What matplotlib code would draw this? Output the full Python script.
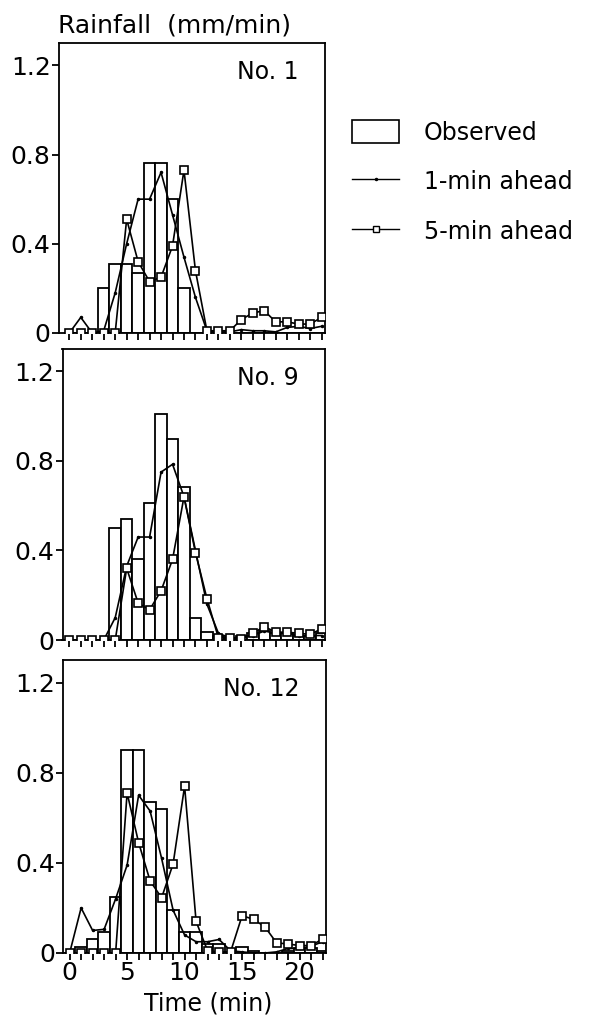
import numpy as np
import matplotlib
matplotlib.use("Agg")
from matplotlib import pyplot as plt
from matplotlib.patches import Patch
from matplotlib.lines import Line2D

plt.rcParams['font.family'] = ['DejaVu Sans']

# time (min)
t = np.arange(0, 23)

# No. 1
obs1 = [0, 0, 0, 0.20, 0.31, 0.31, 0.27, 0.76, 0.76, 0.60, 0.20, 0, 0, 0, 0, 0, 0, 0, 0, 0, 0, 0, 0]
one1 = [0, 0.07, 0, 0.01, 0.18, 0.40, 0.60, 0.60, 0.72, 0.53, 0.34, 0.16, 0.01, 0.005, 0.005,
        0.015, 0.01, 0.01, 0.005, 0.025, 0.03, 0.02, 0.03]
five1 = [0, 0, 0, 0, 0, 0.51, 0.32, 0.23, 0.25, 0.39, 0.73, 0.28, 0.01, 0.01, 0.01,
         0.06, 0.09, 0.10, 0.05, 0.05, 0.04, 0.04, 0.07]

# No. 9
obs2 = [0, 0, 0, 0, 0.50, 0.54, 0.36, 0.61, 1.01, 0.90, 0.685, 0.10, 0.035, 0.02, 0.01,
        0.02, 0.03, 0.04, 0.03, 0.03, 0.02, 0.02, 0.03]
one2 = [0, 0, 0, 0, 0.10, 0.33, 0.46, 0.46, 0.75, 0.785, 0.64, 0.40, 0.16, 0.03, 0.01,
        0.01, 0.02, 0.04, 0.03, 0.03, 0.02, 0.02, 0.02]
five2 = [0, 0, 0, 0, 0, 0.32, 0.165, 0.135, 0.22, 0.36, 0.64, 0.39, 0.185, 0.01, 0.01,
         0.005, 0.03, 0.06, 0.035, 0.035, 0.03, 0.025, 0.05]

# No. 12
obs3 = [0, 0.027, 0.06, 0.093, 0.25, 0.90, 0.90, 0.67, 0.64, 0.19, 0.095, 0.095, 0.04, 0.04, 0,
        0.025, 0.01, 0, 0, 0.01, 0.02, 0.02, 0.01]
one3 = [0, 0.20, 0.10, 0.105, 0.24, 0.39, 0.70, 0.63, 0.42, 0.19, 0.08, 0.05, 0.05, 0.06, 0.01,
        0.005, 0, 0, 0.005, 0.02, 0.02, 0.03, 0.05]
five3 = [0, 0, 0, 0, 0, 0.71, 0.49, 0.32, 0.245, 0.395, 0.74, 0.14, 0.01, 0.005, 0.005,
         0.165, 0.15, 0.115, 0.045, 0.04, 0.033, 0.033, 0.062]

names = ['No. 1', 'No. 9', 'No. 12']
observed = [obs1, obs2, obs3]
ahead1 = [one1, one2, one3]
ahead5 = [five1, five2, five3]

yticks = [0, 0.4, 0.8, 1.2]
yticklabels = ['0', '0.4', '0.8', '1.2']
xticklabels = ['0', '', '', '', '', '5', '', '', '', '', '10', '', '', '', '',
               '15', '', '', '', '', '20', '', '']

W, H = 592, 1031
fig = plt.figure(figsize=(W / 100., H / 100.), dpi=100)

# left, right, top, bottom in pixels ; left x-limit
boxes = [(59, 325, 43, 333, -0.9),
         (62.5, 325, 349, 640, -0.6),
         (63.3, 326, 660, 953, -0.55)]

for i in range(3):
	l, r, top, bot, x0 = boxes[i]
	ax = fig.add_axes([l / W, 1 - bot / H, (r - l) / W, (bot - top) / H])
	ax.bar(t, observed[i], width=1.0, color='white', edgecolor='black', linewidth=1.3, zorder=1)
	ax.plot(t, ahead1[i], color='black', linewidth=1.2, marker='.', markersize=3, zorder=2)
	ax.plot(t, ahead5[i], color='black', linewidth=1.2, marker='s', markersize=6,
	        markerfacecolor='white', markeredgecolor='black', markeredgewidth=1.2, zorder=3)
	ax.set_xlim(x0, 22.3)
	ax.set_ylim(0, 1.30)
	ax.set_yticks(yticks)
	ax.set_yticklabels(yticklabels, fontsize=18)
	ax.set_xticks(t)
	if i == 2:
		ax.set_xticklabels(xticklabels, fontsize=18)
		ax.set_xlabel('Time (min)', fontsize=17)
		ax.xaxis.set_label_coords(0.55, -0.13)
	else:
		ax.set_xticklabels([])
	ax.tick_params(direction='out', length=5, width=1.3, pad=1, color='black')
	for s in ax.spines.values():
		s.set_linewidth(1.3)
	ax.text(0.90, 0.90, names[i], transform=ax.transAxes, ha='right', va='center', fontsize=17)

fig.text(58 / W, 1 - 32 / H, 'Rainfall  (mm/min)', fontsize=18, ha='left', va='baseline')

handles = [Patch(facecolor='white', edgecolor='black', linewidth=1.2),
           Line2D([], [], color='black', linewidth=1.0, marker='.', markersize=3),
           Line2D([], [], color='black', linewidth=1.0, marker='s', markersize=5,
                  markerfacecolor='white', markeredgecolor='black')]
fig.legend(handles, ['Observed', '1-min ahead', '5-min ahead'], loc='upper left',
           bbox_to_anchor=(352 / W, 1 - 120 / H), frameon=False, fontsize=17,
           borderpad=0, borderaxespad=0,
           handlelength=2.0, handleheight=1.15, handletextpad=1.05, labelspacing=1.05)

plt.savefig('out.png', dpi=100)
